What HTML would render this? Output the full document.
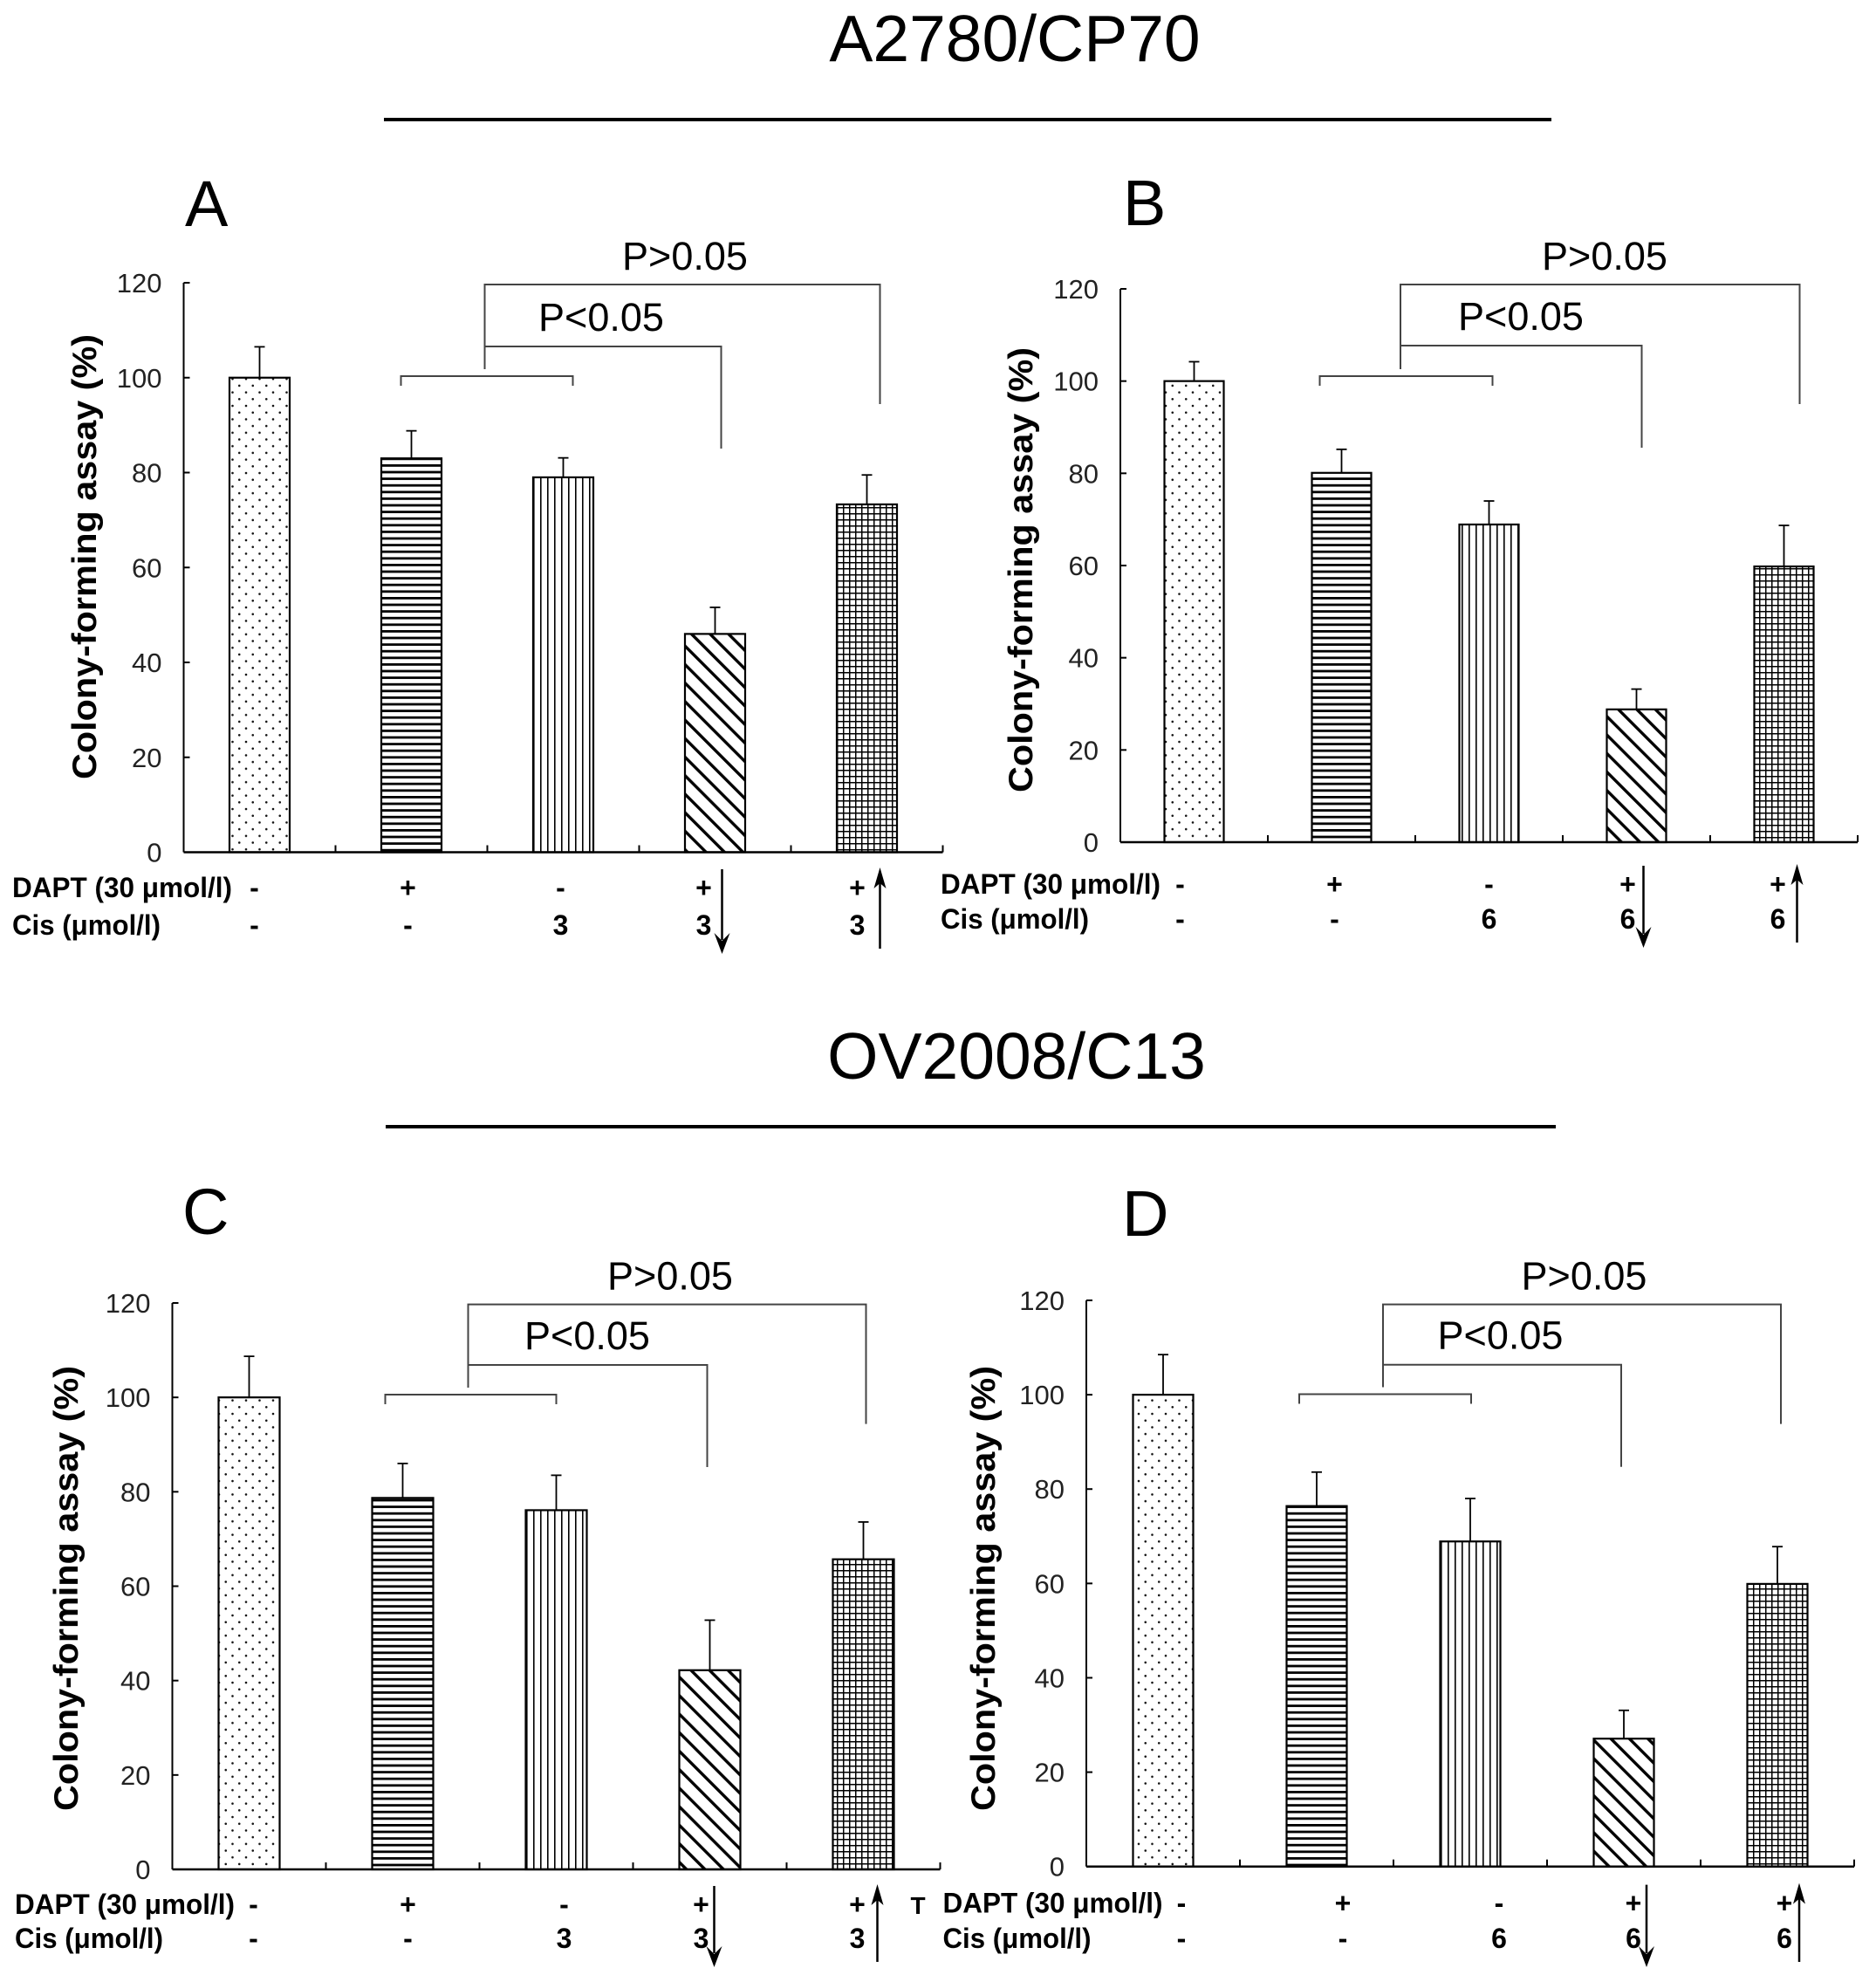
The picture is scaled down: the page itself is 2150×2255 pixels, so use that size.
<!DOCTYPE html>
<html><head><meta charset="utf-8"><style>
html,body{margin:0;padding:0;background:#fff;}
svg{display:block;font-family:"Liberation Sans",Arial,sans-serif;}
</style></head><body>
<svg id="fig" width="2150" height="2255" viewBox="0 0 2150 2255" xmlns="http://www.w3.org/2000/svg">
<defs>
<pattern id="pDots" patternUnits="userSpaceOnUse" width="15.5" height="15.4"><circle cx="3" cy="3" r="1.3" fill="#111"/><circle cx="10.75" cy="10.7" r="1.3" fill="#111"/></pattern>
<pattern id="pHoriz" patternUnits="userSpaceOnUse" width="10" height="7.6"><rect x="0" y="0" width="10" height="2.8" fill="#000"/></pattern>
<pattern id="pVert" patternUnits="userSpaceOnUse" width="8" height="10"><rect x="3" y="0" width="1.6" height="10" fill="#000"/></pattern>
<pattern id="pDiag" patternUnits="userSpaceOnUse" width="15" height="15" patternTransform="rotate(-45)"><rect x="0" y="0" width="3.4" height="15" fill="#000"/></pattern>
<pattern id="pGrid" patternUnits="userSpaceOnUse" width="7" height="7"><rect x="0" y="0" width="1.5" height="7" fill="#000"/><rect x="0" y="0" width="7" height="1.5" fill="#000"/></pattern>
</defs>
<text x="1163" y="70" font-size="75" text-anchor="middle">A2780/CP70</text>
<line x1="440" y1="137" x2="1778" y2="137" stroke="#000" stroke-width="4"/>
<text x="1165" y="1236" font-size="75" text-anchor="middle">OV2008/C13</text>
<line x1="442" y1="1291" x2="1783" y2="1291" stroke="#000" stroke-width="4"/>
<text x="1052" y="2193" font-size="28" font-weight="bold" text-anchor="middle">T</text>
</svg>
<script>
// ---- data ----
const categories = ["Control", "DAPT", "Cis", "DAPT+Cis", "DAPT+Cis+Jag1"];
const yTicks = [0, 20, 40, 60, 80, 100, 120];
const valuesA = [100, 83, 79, 46, 73.3];
const errorsA = [106.5, 88.8, 83.1, 51.6, 79.5];
const valuesB = [100, 80.1, 68.9, 28.8, 59.8];
const errorsB = [104.2, 85.2, 74, 33.2, 68.7];
const valuesC = [100, 78.7, 76.1, 42.2, 65.7];
const errorsC = [108.7, 86, 83.5, 52.8, 73.6];
const valuesD = [100, 76.4, 68.9, 27.1, 59.9];
const errorsD = [108.5, 83.6, 78, 33.1, 67.8];
const daptRow = ["-", "+", "-", "+", "+"];
const cisRowA = ["-", "-", "3", "3", "3"];
const cisRowB = ["-", "-", "6", "6", "6"];
const pLabelHigh = "P>0.05";
const pLabelLow = "P<0.05";

const svg = document.getElementById('fig');
const NS = 'http://www.w3.org/2000/svg';
function mk(tag, attrs, parent) {
  const e = document.createElementNS(NS, tag);
  for (const k in attrs) e.setAttribute(k, attrs[k]);
  (parent || svg).appendChild(e);
  return e;
}
const fills = ['url(#pDots)', 'url(#pHoriz)', 'url(#pVert)', 'url(#pDiag)', 'url(#pGrid)'];
const symOffset = [-6, -4, 0, -13, -11];

function drawPanel(letter, L, vals, errs, cis) {
  const g = mk('g', {});
  
  
  const ys = v => L.y0 - (v / 120) * (L.y0 - L.y120);
  const xc = i => L.ax + L.cw * (i + 0.5);
  const xEnd = L.ax + L.cw * categories.length;
  const S = L.sh;

  const lt = mk('text', {x: L.lx, y: L.ly, 'font-size': 74}, g);
  lt.textContent = letter;
  
  

  const yax = mk('line', {x1: L.ax, y1: L.y120, x2: L.ax, y2: L.y0, stroke: '#000', 'stroke-width': 2}, g);
  
  
  yTicks.forEach(t => {
    const y = ys(t);
    const tk = mk('line', {x1: L.ax, y1: y, x2: L.ax + 7, y2: y, stroke: '#000', 'stroke-width': 2}, g);
    
    
    const tl = mk('text', {x: L.ax - 25, y: y + 11, 'font-size': 31, 'text-anchor': 'end', fill: '#222'}, g);
    tl.textContent = t;
    
    
  });
  const yt = mk('text', {x: 0, y: 0, 'font-size': 39, 'font-weight': 'bold', 'text-anchor': 'middle',
    transform: 'translate(' + L.tx + ',' + L.tcy + ') rotate(-90)', textLength: 510, lengthAdjust: 'spacingAndGlyphs'}, g);
  yt.textContent = 'Colony-forming assay (%)';
  
  

  const xax = mk('line', {x1: L.ax, y1: L.y0, x2: xEnd, y2: L.y0, stroke: '#000', 'stroke-width': 2.5}, g);
  
  
  for (let i = 1; i <= categories.length; i++) {
    const x = L.ax + L.cw * i;
    const tk = mk('line', {x1: x, y1: L.y0, x2: x, y2: L.y0 - 8, stroke: '#000', 'stroke-width': 2}, g);
    
    
  }

  vals.forEach((v, i) => {
    const x = xc(i) - L.bw / 2, y = ys(v);
    const eb = mk('line', {x1: xc(i), y1: y, x2: xc(i), y2: ys(errs[i]), stroke: '#000', 'stroke-width': 1.8}, g);
    
    
    const cap = mk('line', {x1: xc(i) - 6, y1: ys(errs[i]), x2: xc(i) + 6, y2: ys(errs[i]), stroke: '#000', 'stroke-width': 1.8}, g);
    
    
    const b = mk('rect', {x: x, y: y, width: L.bw, height: L.y0 - y, fill: fills[i], stroke: '#000', 'stroke-width': 2.2}, g);
    
    
  });

  const bs = {stroke: '#444', 'stroke-width': 2, fill: 'none'};
  const bl = xc(1) + L.cw / 2 - 3 + S[0];
  const br = xc(4) + 15 + S[1];
  const bm = xc(3) + 7 + S[2];
  const s1 = xc(1) - 10 + S[3], s2 = xc(2) + 11 + S[4];
  const p1 = mk('polyline', Object.assign({points: [bl, L.bSmall - 8, bl, L.bBig, br, L.bBig, br, L.bBig + 137].join(' ')}, bs), g);
  
  
  const p2 = mk('polyline', Object.assign({points: [bl, L.bMid, bm, L.bMid, bm, L.bMid + 117].join(' ')}, bs), g);
  
  
  const p3 = mk('polyline', Object.assign({points: [s1, L.bSmall + 11, s1, L.bSmall, s2, L.bSmall, s2, L.bSmall + 11].join(' ')}, bs), g);
  
  
  const th = mk('text', {x: L.pHx, y: L.bBig - 17, 'font-size': 45, 'text-anchor': 'middle'}, g);
  th.textContent = pLabelHigh;
  
  
  const tlw = mk('text', {x: L.pLx, y: L.bMid - 18, 'font-size': 45, 'text-anchor': 'middle'}, g);
  tlw.textContent = pLabelLow;
  
  

  const r1 = mk('text', {x: L.labx, y: L.r1, 'font-size': 32, 'font-weight': 'bold', textLength: 252, lengthAdjust: 'spacingAndGlyphs'}, g);
  r1.textContent = 'DAPT (30 μmol/l)';
  
  
  const r2 = mk('text', {x: L.labx, y: L.r2, 'font-size': 32, 'font-weight': 'bold', textLength: 170, lengthAdjust: 'spacingAndGlyphs'}, g);
  r2.textContent = 'Cis (μmol/l)';
  
  
  daptRow.forEach((s, i) => {
    const t = mk('text', {x: xc(i) + symOffset[i] + L.ss[i], y: L.r1, 'font-size': 32, 'font-weight': 'bold', 'text-anchor': 'middle'}, g);
    t.textContent = s;
    
    
  });
  cis.forEach((s, i) => {
    const t = mk('text', {x: xc(i) + symOffset[i] + L.ss[i], y: L.r2, 'font-size': 32, 'font-weight': 'bold', 'text-anchor': 'middle'}, g);
    t.textContent = s;
    
    
  });
  const dx = xc(3) + 8 + L.as[0], ux = xc(4) + 15 + L.as[1];
  const top = L.r1 - 32, bot = L.r2 + 22;
  const da = mk('line', {x1: dx, y1: top, x2: dx, y2: bot - 16, stroke: '#000', 'stroke-width': 2.5}, g);
  
  
  const dh = mk('polygon', {points: [dx - 9, bot - 24, dx, bot, dx + 9, bot - 24, dx, bot - 15].join(' '), fill: '#000'}, g);
  
  
  const ua = mk('line', {x1: ux, y1: top + 16, x2: ux, y2: bot - 6, stroke: '#000', 'stroke-width': 2.5}, g);
  
  
  const uh = mk('polygon', {points: [ux - 7, top + 22, ux, top - 2, ux + 7, top + 22, ux, top + 16].join(' '), fill: '#000'}, g);
  
  
}

drawPanel('A', {ax: 210.5, y120: 324, y0: 976.5, cw: 174, bw: 69, lx: 212, ly: 259, tx: 110, tcy: 638,
  bBig: 326, bMid: 397, bSmall: 431, pHx: 785, pLx: 689, labx: 14, r1: 1028, r2: 1071,
  sh: [0, 0, 0, -2, 0], ss: [0, 0, -3, 0, 0], as: [0, 0]}, valuesA, errorsA, cisRowA);
drawPanel('B', {ax: 1284, y120: 331, y0: 965, cw: 169, bw: 68, lx: 1287, ly: 258, tx: 1183, tcy: 653,
  bBig: 326, bMid: 396, bSmall: 431, pHx: 1839, pLx: 1743, labx: 1078, r1: 1024, r2: 1064,
  sh: [-14, 3, -1, -15, -7], ss: [-10, -4, 0, 3, 4], as: [0, 0]}, valuesB, errorsB, cisRowB);
drawPanel('C', {ax: 197.5, y120: 1493, y0: 2142, cw: 176, bw: 70, lx: 209, ly: 1414, tx: 89, tcy: 1820,
  bBig: 1494.6, bMid: 1564, bSmall: 1598, pHx: 768, pLx: 673, labx: 17, r1: 2193, r2: 2232,
  sh: [-10, -12, -10, -10, -11], ss: [11, 10, 9, 3, 4], as: [-3, 1]}, valuesC, errorsC, cisRowA);
drawPanel('D', {ax: 1245, y120: 1490, y0: 2138.7, cw: 176, bw: 69, lx: 1286, ly: 1416, tx: 1140, tcy: 1820,
  bBig: 1494.6, bMid: 1563.7, bSmall: 1597.5, pHx: 1815.5, pLx: 1719.5, labx: 1080.5, r1: 2191.6, r2: 2232,
  sh: [-9, -11, -10, -10, -10], ss: [27, 34, 33, 24, 19], as: [18, 10]}, valuesD, errorsD, cisRowB);
</script>
</body></html>
